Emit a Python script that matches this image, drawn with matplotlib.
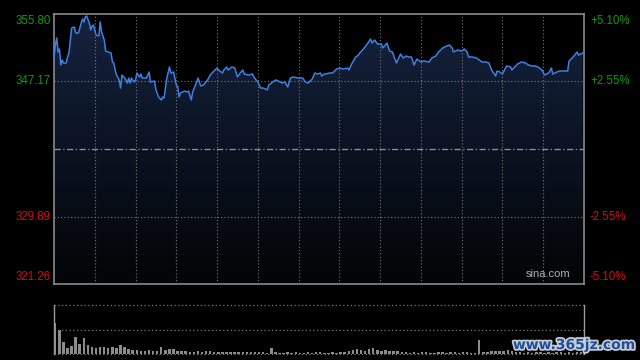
import numpy as np
import matplotlib
matplotlib.use('Agg')
import matplotlib.pyplot as plt
import matplotlib.patheffects as pe
from matplotlib.colors import LinearSegmentedColormap

# ---- intraday price (minute index from the open, price) ----
minutes = [0, 1, 2, 3, 4, 5, 6, 7, 9, 10, 11, 12, 13, 15, 16, 18, 20, 21, 22, 23, 24, 26, 27, 28, 29,
           31, 33, 34, 35, 37, 38, 40, 42, 43, 44, 45, 46, 48, 49, 50, 52, 53, 54, 55, 56, 57, 59, 60,
           61, 63, 64, 65, 66, 68, 70, 71, 74, 75, 77, 79, 80, 81, 83, 85, 86, 88, 90, 91, 92, 93, 96,
           98, 99, 101, 102, 105, 106, 107, 108, 110, 113, 115, 117, 120, 121, 124, 125, 127, 128, 131,
           133, 135, 137, 139, 140, 143, 146, 147, 150, 152, 154, 157, 158, 161, 163, 165, 168, 170,
           172, 174, 176, 180, 183, 185, 187, 190, 192, 194, 196, 197, 199, 203, 205, 208, 210, 213,
           216, 217, 219, 222, 224, 225, 227, 230, 233, 234, 236, 238, 241, 242, 245, 247, 249, 252,
           255, 257, 259, 261, 263, 265, 267, 270, 272, 276, 278, 281, 283, 286, 289, 291, 293, 294,
           297, 300, 302, 304, 305, 308, 311, 313, 315, 318, 320, 322, 325, 326, 328, 330, 333, 336,
           337, 339, 341, 344, 347, 349, 352, 354, 356, 359, 361, 364, 366, 367, 370, 372, 376, 378,
           379, 382, 385, 386, 389]
prices = [350.17, 351.83, 352.73, 350.94, 351.32, 349.28, 349.92, 349.53, 349.53, 350.30, 350.81,
          352.47, 354.01, 354.14, 353.37, 353.37, 354.65, 355.16, 354.78, 355.42, 355.54, 354.65,
          353.75, 354.26, 354.39, 353.11, 352.99, 354.78, 353.50, 352.47, 351.07, 350.94, 350.81,
          349.66, 349.53, 348.64, 348.00, 347.36, 346.33, 348.00, 347.61, 347.36, 346.97, 347.61,
          346.97, 347.61, 347.10, 347.36, 348.25, 347.74, 348.12, 347.61, 347.61, 347.61, 348.38,
          347.10, 347.23, 346.08, 345.18, 344.80, 345.18, 345.05, 347.61, 349.02, 348.25, 348.38,
          346.72, 346.59, 345.18, 345.69, 345.95, 345.82, 345.95, 344.80, 345.82, 347.10, 347.61,
          347.10, 346.59, 346.72, 347.36, 348.00, 348.38, 348.89, 348.64, 348.25, 348.64, 349.02,
          348.64, 349.02, 348.89, 347.74, 348.25, 348.64, 348.12, 348.00, 348.12, 347.74, 347.10,
          346.33, 346.33, 346.08, 346.72, 347.10, 347.36, 347.23, 346.97, 347.10, 346.46, 347.61,
          347.74, 347.61, 347.61, 347.10, 346.97, 347.48, 348.25, 348.12, 348.25, 347.87, 348.12,
          348.25, 348.25, 348.76, 348.89, 348.76, 348.89, 348.64, 349.40, 350.30, 350.55, 350.81,
          351.19, 351.83, 352.60, 352.09, 352.47, 351.96, 351.96, 351.45, 352.09, 351.07, 350.94,
          349.53, 350.68, 350.17, 350.43, 350.30, 350.30, 349.28, 350.04, 349.66, 349.79, 349.66,
          350.17, 350.43, 350.94, 351.45, 351.71, 351.83, 351.45, 350.94, 351.19, 351.07, 351.32,
          350.94, 350.30, 350.30, 350.17, 349.92, 349.66, 349.66, 349.53, 348.64, 347.87, 348.51,
          348.38, 348.12, 349.15, 349.02, 348.64, 349.02, 349.40, 349.66, 349.53, 349.28, 349.15,
          349.15, 349.02, 348.64, 348.00, 348.25, 348.89, 348.12, 348.38, 348.51, 348.51, 348.51,
          349.79, 350.30, 350.94, 350.55, 350.81]

# ---- volume, one bar every 3 minutes (thousand shares) ----
vol_minutes = list(range(0, 390, 3))
volumes = [317, 240, 120, 60, 80, 177, 100, 160, 90, 77, 60, 77, 70, 60, 70, 60, 93, 70, 50, 43,
           43, 37, 33, 43, 33, 33, 77, 43, 50, 50, 33, 33, 33, 27, 27, 33, 27, 30, 30, 27,
           23, 23, 23, 23, 20, 20, 20, 20, 20, 20, 20, 20, 17, 67, 23, 17, 17, 20, 17, 23,
           17, 17, 20, 17, 20, 23, 17, 17, 20, 17, 20, 23, 30, 40, 53, 40, 37, 50, 60, 43,
           37, 40, 33, 30, 37, 27, 20, 17, 20, 17, 23, 20, 17, 17, 20, 20, 17, 23, 20, 17,
           20, 20, 17, 17, 143, 20, 23, 30, 33, 37, 33, 40, 30, 27, 20, 17, 20, 17, 20, 23,
           17, 20, 17, 20, 20, 17, 20, 17, 20, 23]

prev_close = 338.53
ymin, ymax = 321.26, 355.80
left_labels = ['321.26', '329.89', '347.17', '355.80']
right_labels = ['-5.10%', '-2.55%', '+2.55%', '+5.10%']
label_vals = [321.26, 329.89, 347.17, 355.80]

BG = '#000000'; GRID = '#7a7a7a'; BORDER = '#8a8a8a'
GREEN = '#109a10'; RED = '#d01010'; LINE = '#3f7fe0'

fig = plt.figure(figsize=(6.4, 3.6), dpi=100, facecolor=BG)
ax = fig.add_axes([54 / 640, 76 / 360, 530 / 640, 270 / 360])
av = fig.add_axes([54 / 640, 5.7 / 360, 530 / 640, 49.6 / 360])

# ---- price panel ----
ax.set_facecolor(BG)
ax.set_xlim(0, 390); ax.set_ylim(ymin, ymax)
grad = LinearSegmentedColormap.from_list('g', ['#030405', '#0b1322', '#16233f'])
img = ax.imshow(np.linspace(0, 1, 256)[:, None], cmap=grad, origin='lower', aspect='auto',
                extent=(0, 390, ymin, ymax), zorder=1)
poly = ax.fill_between(minutes, prices, ymin, color='none', lw=0)
img.set_clip_path(poly.get_paths()[0], transform=ax.transData)
for m in range(30, 390, 30):
    ax.axvline(m, color=GRID, ls=(0, (1, 2)), lw=0.8, zorder=2)
for v in (329.89, 347.17):
    ax.axhline(v, color=GRID, ls=(0, (1, 2)), lw=0.8, zorder=2)
ax.axhline(prev_close, color='#8a96a6', ls=(0, (5, 2, 1, 2)), lw=0.9, zorder=2)
ax.plot(minutes, prices, color=LINE, lw=1.1, zorder=3)
for s in ax.spines.values():
    s.set_color(BORDER); s.set_linewidth(1.2)
ax.set_xticks([]); ax.set_yticks([])

# axis labels: top one hangs below the border, bottom one sits above it
for lab_l, lab_r, v in zip(left_labels, right_labels, label_vals):
    col = GREEN if v > prev_close else RED
    va = 'top' if v == ymax else ('bottom' if v == ymin else 'center')
    dy = -1.5 if v == ymax else (1.5 if v == ymin else 0)
    y = ax.transData.transform((0, v))[1] + dy
    yf = y / fig.bbox.height
    fig.text(51 / 640, yf, lab_l, ha='right', va=va, color=col, fontsize=8.3, family='Liberation Sans')
    fig.text(590 / 640, yf, lab_r, ha='left', va=va, color=col, fontsize=8.3, family='Liberation Sans')

ax.text(0.975, 0.02, 'sina.com', transform=ax.transAxes, ha='right', va='bottom',
        color='#b0b0b0', fontsize=8, family='Liberation Sans', zorder=4)

# ---- volume panel ----
av.set_facecolor(BG)
av.set_xlim(0, 390); av.set_ylim(0, 496)
av.bar(vol_minutes, volumes, width=1.8, color='#8c8c8c', align='edge', lw=0)
for v in (0, 248, 496):
    av.axhline(v, color=GRID, ls=(0, (1, 2)), lw=0.9, clip_on=False)
for k in ('top', 'bottom'):
    av.spines[k].set_visible(False)
for k in ('left', 'right'):
    av.spines[k].set_color('#9a9a9a'); av.spines[k].set_linewidth(1.0)
av.set_xticks([]); av.set_yticks([])

fig.text(574 / 640, 1 - 345 / 360, 'www.365jz.com', ha='center', va='center', color='#1d4f9c',
         fontsize=10, fontweight='bold', family='DejaVu Sans',
         path_effects=[pe.withStroke(linewidth=2.5, foreground='#c8ccd4')])

fig.savefig('out.png', dpi=100, facecolor=BG)
